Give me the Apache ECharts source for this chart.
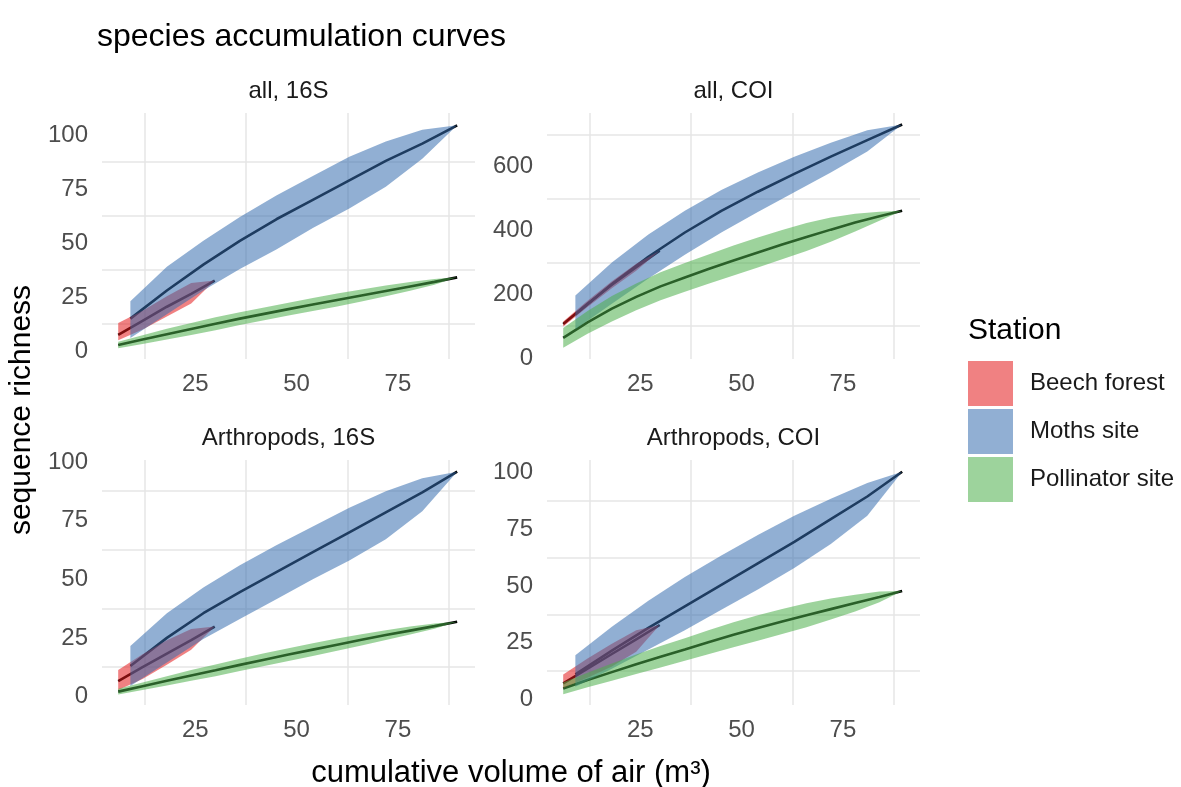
<!DOCTYPE html>
<html>
<head>
<meta charset="utf-8">
<script src="https://cdn.jsdelivr.net/npm/echarts@6/dist/echarts.min.js"></script>
<style>
  html, body { margin: 0; padding: 0; background: #fff; }
  #chart { width: 1181px; height: 787px; }
</style>
</head>
<body>
<div id="chart"></div>
<script>
// sample volumes (m3) per station
const beechX = [6, 12, 18, 24, 29.8]
const mothsX = [9, 18, 27, 36, 45, 54, 63, 72, 81, 89.6]
const pollX = [6, 12, 18, 24, 30, 36, 42, 48, 54, 60, 66, 72, 78, 84, 89.6]

// all, 16S
const all16sBeechMean = [7.5, 14, 20.5, 26.5, 32.6]
const all16sBeechLo = [5, 10, 16, 22, 32.6]
const all16sBeechHi = [13, 18.6, 25.3, 31.5, 32.6]
const all16sMothsMean = [15, 28, 40, 51, 61, 70, 79, 88, 96, 104.5]
const all16sMothsLo = [6, 17, 28, 38, 47, 57, 66, 76, 89, 104.5]
const all16sMothsHi = [23, 39, 51, 62, 72, 81, 90, 97, 102.5, 104.5]
const all16sPollMean = [2.8, 5.3, 7.8, 10.2, 12.6, 15, 17.2, 19.4, 21.5, 23.6, 25.7, 27.8, 29.9, 32, 34.1]
const all16sPollLo = [1.3, 3.3, 5.3, 7.4, 9.6, 12, 14.2, 16.4, 18.5, 20.6, 22.9, 25.3, 27.9, 30.7, 34.1]
const all16sPollHi = [4.3, 7.3, 10.3, 13, 15.6, 18, 20.2, 22.4, 24.5, 26.6, 28.5, 30.3, 31.9, 33.3, 34.1]

// all, COI
const allCoiBeechMean = [107, 170, 230, 285, 337]
const allCoiBeechLo = [99, 160, 219, 274, 337]
const allCoiBeechHi = [115, 180, 241, 296, 337]
const allCoiMothsMean = [137, 232, 318, 394, 462, 522, 578, 632, 684, 733]
const allCoiMothsLo = [90, 170, 250, 324, 394, 458, 520, 582, 648, 733]
const allCoiMothsHi = [196, 300, 388, 462, 527, 582, 632, 676, 715, 733]
const allCoiPollMean = [63, 112, 155, 192, 225, 253, 280, 306, 331, 356, 380, 403, 425, 445, 462]
const allCoiPollLo = [32, 76, 115, 150, 181, 208, 234, 259, 284, 310, 336, 365, 397, 431, 462]
const allCoiPollHi = [94, 148, 195, 234, 269, 298, 326, 353, 378, 402, 424, 441, 453, 459, 462]

// Arthropods, 16S
const art16sBeechMean = [6.6, 12.5, 18.3, 24, 29.8]
const art16sBeechLo = [2.8, 7.5, 13.5, 19.9, 29.8]
const art16sBeechHi = [11.3, 18, 24, 28.8, 29.8]
const art16sMothsMean = [13, 25, 35.5, 44.5, 53, 61.5, 70, 78.5, 87, 95.8]
const art16sMothsLo = [4.5, 14.5, 24.5, 33, 41.5, 50, 58, 67, 79, 95.8]
const art16sMothsHi = [21.5, 35.5, 46.5, 56, 64.5, 72.5, 80.5, 87.5, 93, 95.8]
const art16sPollMean = [2.1, 4.4, 6.7, 9, 11.2, 13.5, 15.7, 17.9, 20, 22.1, 24.2, 26.2, 28.1, 30, 31.9]
const art16sPollLo = [0.9, 2.8, 4.7, 6.7, 8.7, 10.9, 13, 15.2, 17.3, 19.5, 21.8, 24.1, 26.4, 28.9, 31.9]
const art16sPollHi = [3.3, 6, 8.7, 11.3, 13.7, 16.1, 18.4, 20.6, 22.7, 24.7, 26.6, 28.3, 29.8, 31.1, 31.9]

// Arthropods, COI
const artCoiBeechMean = [7, 13.5, 20, 26.5, 32.8]
const artCoiBeechLo = [5, 9.5, 14.5, 21, 32.8]
const artCoiBeechHi = [11, 18, 24.5, 30.5, 32.8]
const artCoiMothsMean = [11, 21.5, 31.5, 41, 50.5, 60, 69.5, 79.5, 89.5, 100.4]
const artCoiMothsLo = [5.5, 13.5, 22, 30.5, 39.5, 48.5, 58, 68.5, 81, 100.4]
const artCoiMothsHi = [19.5, 32, 43.5, 54, 63.5, 72.5, 81, 88.5, 95.5, 100.4]
const artCoiPollMean = [4.8, 8.5, 12, 15.5, 18.8, 22, 25.3, 28.5, 31.5, 34.3, 37.1, 39.8, 42.5, 45.2, 47.8]
const artCoiPollLo = [2.2, 5.3, 8.2, 11.2, 14.1, 17, 20, 23, 25.9, 28.8, 31.8, 35.2, 38.8, 42.8, 47.8]
const artCoiPollHi = [7.4, 11.7, 15.8, 19.8, 23.5, 27, 30.6, 34, 37.1, 39.9, 42.4, 44.5, 46.2, 47.6, 47.8]

// axis breaks
const xLabels = [25, 50, 75]
const xGrid = [12.5, 37.5, 62.5, 87.5]
const y100Labels = [0, 25, 50, 75, 100]
const y100Grid = [12.5, 37.5, 62.5, 87.5]
const y600Labels = [0, 200, 400, 600]
const y600Grid = [100, 300, 500, 700]

const stations = ['Beech forest', 'Moths site', 'Pollinator site']
const facetTitles = ['all, 16S', 'all, COI', 'Arthropods, 16S', 'Arthropods, COI']

const FONT = 'Liberation Sans, Arial, sans-serif'
const fills = {
  'Beech forest': 'rgba(228, 26, 28, 0.55)',
  'Moths site': 'rgba(55, 110, 175, 0.55)',
  'Pollinator site': 'rgba(77, 175, 74, 0.55)'
}

const panels = [
  { x: [beechX, mothsX, pollX],
    mean: [all16sBeechMean, all16sMothsMean, all16sPollMean],
    lo: [all16sBeechLo, all16sMothsLo, all16sPollLo],
    hi: [all16sBeechHi, all16sMothsHi, all16sPollHi] },
  { x: [beechX, mothsX, pollX],
    mean: [allCoiBeechMean, allCoiMothsMean, allCoiPollMean],
    lo: [allCoiBeechLo, allCoiMothsLo, allCoiPollLo],
    hi: [allCoiBeechHi, allCoiMothsHi, allCoiPollHi] },
  { x: [beechX, mothsX, pollX],
    mean: [art16sBeechMean, art16sMothsMean, art16sPollMean],
    lo: [art16sBeechLo, art16sMothsLo, art16sPollLo],
    hi: [art16sBeechHi, art16sMothsHi, art16sPollHi] },
  { x: [beechX, mothsX, pollX],
    mean: [artCoiBeechMean, artCoiMothsMean, artCoiPollMean],
    lo: [artCoiBeechLo, artCoiMothsLo, artCoiPollLo],
    hi: [artCoiBeechHi, artCoiMothsHi, artCoiPollHi] }
]

const gridBoxes = [
  { left: 102, top: 113, width: 373, height: 246 },
  { left: 547, top: 113, width: 373, height: 246 },
  { left: 102, top: 460, width: 373, height: 245 },
  { left: 547, top: 460, width: 373, height: 245 }
]
const yRanges = [[-3.7, 110.2], [-3, 769], [-3.6, 100.8], [-2.5, 105.6]]

const gridLineStyle = { show: true, lineStyle: { color: '#e6e6e6', width: 1.5 } }

const xAxes = gridBoxes.map((g, i) => ({
  type: 'value', gridIndex: i, min: 2, max: 94,
  axisLine: { show: false },
  axisTick: { show: false, customValues: xGrid },
  axisLabel: { customValues: xLabels, fontSize: 24, color: '#4d4d4d', margin: 13, fontFamily: FONT },
  splitLine: gridLineStyle
}))

const yAxes = gridBoxes.map((g, i) => ({
  type: 'value', gridIndex: i, min: yRanges[i][0], max: yRanges[i][1],
  axisLine: { show: false },
  axisTick: { show: false, customValues: i === 1 ? y600Grid : y100Grid },
  axisLabel: { customValues: i === 1 ? y600Labels : y100Labels, fontSize: 24, color: '#4d4d4d', margin: 14, fontFamily: FONT },
  splitLine: gridLineStyle
}))

function ribbon (panelIdx, s) {
  const p = panels[panelIdx]
  const xs = p.x[s], lo = p.lo[s], hi = p.hi[s]
  return {
    type: 'custom',
    name: stations[s],
    xAxisIndex: panelIdx,
    yAxisIndex: panelIdx,
    silent: true,
    z: 3,
    data: xs.map((x, i) => [x, lo[i], hi[i]]),
    encode: { x: 0, y: [1, 2] },
    itemStyle: { color: fills[stations[s]] },
    renderItem: (params, api) => {
      if (params.dataIndex !== 0) return
      const pts = []
      xs.forEach((x, i) => pts.push(api.coord([x, hi[i]])))
      for (let i = xs.length - 1; i >= 0; i--) pts.push(api.coord([xs[i], lo[i]]))
      return { type: 'polygon', shape: { points: pts }, style: { fill: fills[stations[s]] } }
    }
  }
}

function meanLine (panelIdx, s) {
  const p = panels[panelIdx]
  return {
    type: 'line',
    name: stations[s] + ' mean',
    xAxisIndex: panelIdx,
    yAxisIndex: panelIdx,
    silent: true,
    z: 2,
    showSymbol: false,
    data: p.x[s].map((x, i) => [x, p.mean[s][i]]),
    lineStyle: { color: '#000', width: 2.6 }
  }
}

const series = []
panels.forEach((p, i) => { stations.forEach((st, s) => series.push(meanLine(i, s))) })
panels.forEach((p, i) => { stations.forEach((st, s) => series.push(ribbon(i, s))) })

const stripTexts = facetTitles.map((t, i) => ({
  type: 'text',
  x: gridBoxes[i].left + gridBoxes[i].width / 2,
  y: i < 2 ? 91 : 438,
  style: { text: t, fontSize: 24, fill: '#1a1a1a', fontFamily: FONT, align: 'center', verticalAlign: 'middle' }
}))

const chart = echarts.init(document.getElementById('chart'))
chart.setOption({
  animation: false,
  backgroundColor: '#fff',
  textStyle: { fontFamily: FONT },
  title: {
    text: 'species accumulation curves',
    left: 97, top: 21, padding: 0,
    textStyle: { fontSize: 32, fontWeight: 'normal', color: '#000', fontFamily: FONT }
  },
  legend: {
    left: 968, top: 361, orient: 'vertical', padding: 0,
    itemWidth: 45, itemHeight: 45, itemGap: 3,
    selectedMode: false,
    textStyle: { fontSize: 24, color: '#1a1a1a', fontFamily: FONT, padding: [0, 0, 0, 12] },
    data: stations.map(st => ({ name: st, icon: 'rect', itemStyle: { color: fills[st] } }))
  },
  grid: gridBoxes,
  xAxis: xAxes,
  yAxis: yAxes,
  series: series,
  graphic: stripTexts.concat([
    { type: 'text', x: 968, y: 331,
      style: { text: 'Station', fontSize: 30, fill: '#000', fontFamily: FONT, align: 'left', verticalAlign: 'middle' } },
    { type: 'text', x: 511, y: 773,
      style: { text: 'cumulative volume of air (m³)', fontSize: 31, fill: '#000', fontFamily: FONT, align: 'center', verticalAlign: 'middle' } },
    { type: 'text', x: 22, y: 410, rotation: Math.PI / 2,
      style: { text: 'sequence richness', fontSize: 30, fill: '#000', fontFamily: FONT, align: 'center', verticalAlign: 'middle' } }
  ])
})
</script>
</body>
</html>
